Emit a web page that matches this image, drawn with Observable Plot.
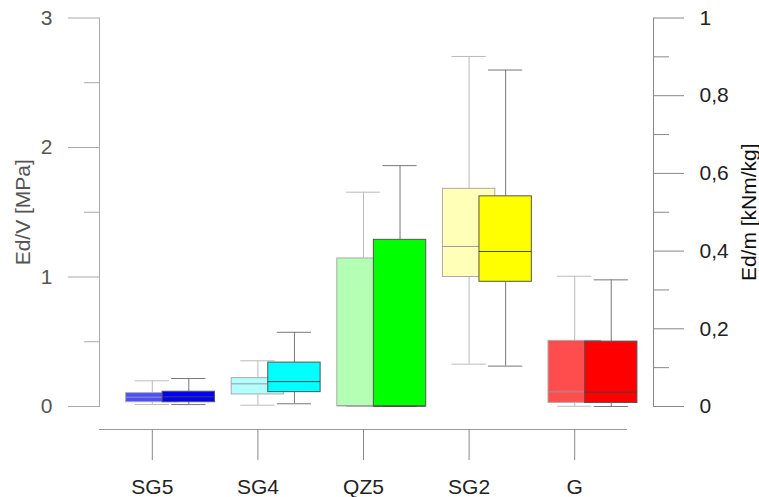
<!DOCTYPE html>
<html>
<head>
<meta charset="utf-8">
<script src="https://cdn.jsdelivr.net/npm/d3@7"></script>
<script src="https://cdn.jsdelivr.net/npm/@observablehq/plot@0.6"></script>
<style>
  html, body { margin: 0; padding: 0; background: #fff; }
</style>
</head>
<body>
<div id="chart"></div>
<script>
// Categories
const categories = ["SG5", "SG4", "QZ5", "SG2", "G"];

// Ed/V [MPa] — light boxes (left axis)
const volMin = [0.015, 0.010, 0.000, 0.327, 0.002];
const volQ1  = [0.033, 0.093, 0.003, 1.000, 0.028];
const volMed = [0.072, 0.175, 0.005, 1.236, 0.113];
const volQ3  = [0.103, 0.219, 1.143, 1.681, 0.507];
const volMax = [0.198, 0.353, 1.655, 2.703, 1.006];

// Ed/m [kNm/kg] — saturated boxes (right axis)
const massMin = [0.005, 0.007, 0.000, 0.104, 0.000];
const massQ1  = [0.011, 0.037, 0.000, 0.321, 0.009];
const massMed = [0.025, 0.064, 0.001, 0.399, 0.037];
const massQ3  = [0.038, 0.113, 0.429, 0.541, 0.167];
const massMax = [0.072, 0.191, 0.620, 0.866, 0.326];

const lightColors = ["#4d4dff", "#b3ffff", "#b3ffb3", "#ffffb8", "#ff4d4d"];
const darkColors  = ["#0000ff", "#00ffff", "#00ff00", "#ffff00", "#ff0000"];

// Axis ticks
const leftTicks = [0, 1, 2, 3];
const leftMinor = [0.5, 1.5, 2.5];
const rightTicks = [0, 0.2, 0.4, 0.6, 0.8, 1];
const rightLabels = ["0", "0,2", "0,4", "0,6", "0,8", "1"];
const rightMinor = [0.1, 0.3, 0.5, 0.7, 0.9];

const ratio = 3;          // 1 kNm/kg on right axis == 3 MPa on left axis
const half = 0.248;       // box half width (category units)
const cap = 0.162;        // whisker cap half width
const darkOffset = 0.346; // shift of the second box

const light = categories.map((c, i) => ({
  x: i, min: volMin[i], q1: volQ1[i], med: volMed[i], q3: volQ3[i], max: volMax[i], fill: lightColors[i]
}));
const dark = categories.map((c, i) => ({
  x: i + darkOffset, min: massMin[i] * ratio, q1: massQ1[i] * ratio, med: massMed[i] * ratio,
  q3: massQ3[i] * ratio, max: massMax[i] * ratio, fill: darkColors[i]
}));

function boxMarks(data, {whisker, boxStroke, medianStroke}) {
  return [
    Plot.ruleX(data, {x: "x", y1: "min", y2: "q1", stroke: whisker}),
    Plot.ruleX(data, {x: "x", y1: "q3", y2: "max", stroke: whisker}),
    Plot.ruleY(data, {y: "min", x1: d => d.x - cap, x2: d => d.x + cap, stroke: whisker}),
    Plot.ruleY(data, {y: "max", x1: d => d.x - cap, x2: d => d.x + cap, stroke: whisker}),
    Plot.rect(data, {x1: d => d.x - half, x2: d => d.x + half, y1: "q1", y2: "q3", fill: "fill", stroke: boxStroke}),
    Plot.ruleY(data, {y: "med", x1: d => d.x - half, x2: d => d.x + half, stroke: medianStroke})
  ];
}

const fmtRight = d => {
  const v = d / ratio;
  const k = rightTicks.findIndex(t => Math.abs(t - v) < 1e-9);
  return k >= 0 ? rightLabels[k] : "";
};

const chart = Plot.plot({
  width: 759,
  height: 497,
  marginLeft: 99,
  marginRight: 106,
  marginTop: 17.5,
  marginBottom: 91,
  style: {fontFamily: "'Liberation Sans', Arial, sans-serif", fontSize: "21px", background: "#fff"},
  x: {domain: [-0.5, 4.5], range: [99, 627]},
  y: {domain: [0, 3]},
  marks: [
    // left axis
    Plot.frame({anchor: "left", stroke: "#aaa"}),
    Plot.axisY(leftTicks, {anchor: "left", tickSize: 31, tickPadding: 16, fontSize: 21, fill: "#555", stroke: "#aaa", label: null, tickFormat: d => String(d)}),
    Plot.axisY(leftMinor, {anchor: "left", tickSize: 15, stroke: "#aaa", tickFormat: () => "", label: null}),
    Plot.text(["Ed/V [MPa]"], {frameAnchor: "left", textAnchor: "middle", lineAnchor: "middle", rotate: -90, dx: -76, fontSize: 21, fill: "#555"}),
    // right axis
    Plot.frame({anchor: "right", stroke: "#888"}),
    Plot.axisY(rightTicks.map(v => v * ratio), {anchor: "right", tickSize: 30, tickPadding: 16, fontSize: 21, fill: "#222", stroke: "#888", label: null, tickFormat: fmtRight}),
    Plot.axisY(rightMinor.map(v => v * ratio), {anchor: "right", tickSize: 15, stroke: "#888", tickFormat: () => "", label: null}),
    Plot.text(["Ed/m [kNm/kg]"], {frameAnchor: "right", textAnchor: "middle", lineAnchor: "middle", rotate: -90, dx: 96, fontSize: 21, fill: "#111"}),
    // bottom axis
    Plot.ruleY([0], {x1: -0.5, x2: 4.5, dy: 23, stroke: "#999"}),
    Plot.axisX(categories.map((c, i) => i), {anchor: "bottom", dy: 23, tickSize: 31, tickPadding: 19, fontSize: 21, fill: "#222", stroke: "#888", label: null, tickFormat: i => categories[i]}),
    // boxes
    ...boxMarks(light, {whisker: "#bbb", boxStroke: "#aaa", medianStroke: "#999"}),
    ...boxMarks(dark, {whisker: "#777", boxStroke: "#555", medianStroke: "#444"})
  ]
});
document.getElementById("chart").appendChild(chart);
</script>
</body>
</html>
